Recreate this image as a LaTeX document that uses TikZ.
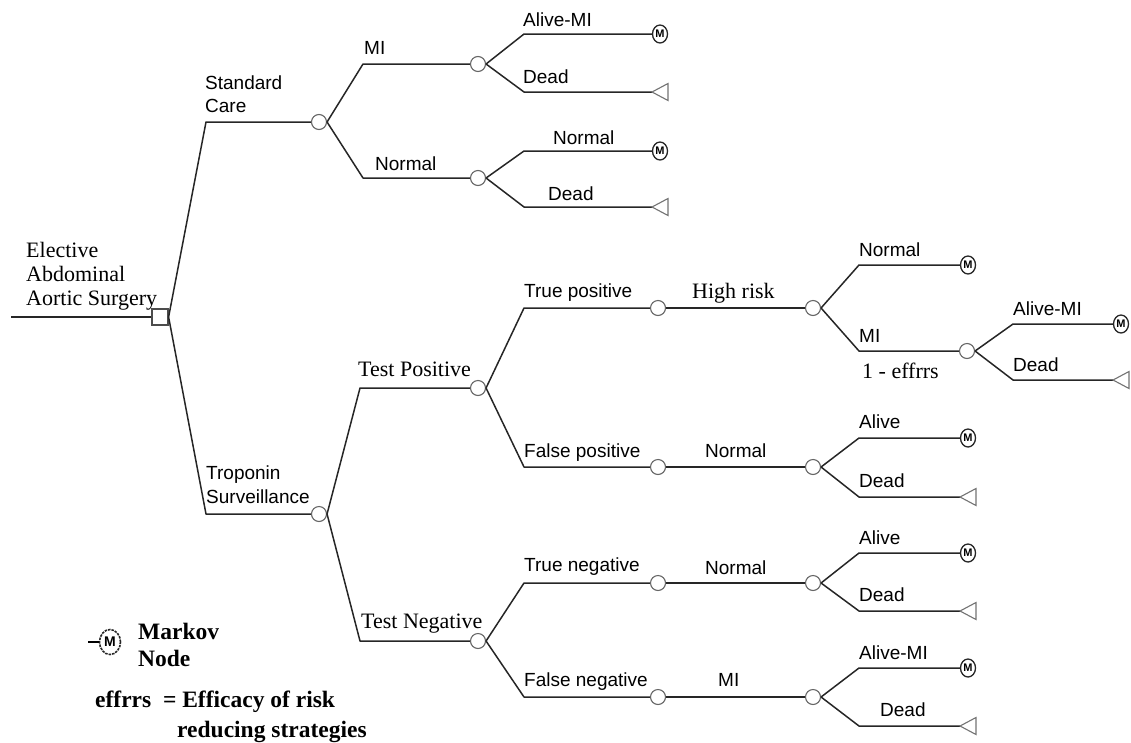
\documentclass[tikz,border=0pt]{standalone}
\usepackage{fontspec}
\usetikzlibrary{shapes.geometric}
\newfontfamily\lsans{Liberation Sans}
\newfontfamily\lserif{Liberation Serif}
\begin{document}
\begin{tikzpicture}[x=1pt,y=-1pt,
  edge/.style={line width=1.5pt, black!85, line join=round},
  chance/.style={circle, draw=black!60, line width=1.1pt, minimum size=15pt, inner sep=0pt, fill=white},
  decision/.style={rectangle, draw=black!70, line width=1.2pt, minimum size=16pt, inner sep=0pt, fill=white},
  markov/.style={ellipse, draw=black!85, line width=1.3pt, minimum width=15pt, minimum height=18pt, inner sep=0pt, font=\lsans\bfseries\fontsize{11}{11}\selectfont},
  term/.style={draw=black!55, line width=1.1pt, line join=miter},
  lab/.style={anchor=base west, inner sep=0pt, font=\lsans\fontsize{19}{22}\selectfont},
  slab/.style={anchor=base west, inner sep=0pt, font=\lserif\fontsize{22}{24}\selectfont},
  blab/.style={anchor=base west, inner sep=0pt, font=\lserif\bfseries\fontsize{23.5}{26}\selectfont}]
\useasboundingbox (0,0) rectangle (1131,742);

% ---------- root ----------
\coordinate (start) at (11,317);
\node[decision] (root) at (160,317) {};
\draw[edge] (start) -- (root.west);
\node[slab] (el1) at (26,257) {Elective};
\node[slab] (el2) at (26,281) {Abdominal};
\node[slab] (el3) at (26,305) {Aortic Surgery};

% ---------- standard care ----------
\coordinate (sc) at (206,122);
\node[chance] (c1) at (319,122) {};
\draw[edge] (root.east) -- (sc) -- (c1.west);
\node[lab] (lsc1) at (205,89) {Standard};
\node[lab] (lsc2) at (205,112) {Care};

\coordinate (a1) at (363,64);
\coordinate (a2) at (363,178);
\node[chance] (c2) at (478,64) {};
\node[chance] (c3) at (478,178) {};
\draw[edge] (c1.east) -- (a1) -- (c2.west);
\draw[edge] (c1.east) -- (a2) -- (c3.west);
\node[lab] (lmi1) at (364,54) {MI};
\node[lab] (lno1) at (375,170) {Normal};

\coordinate (a3) at (524,34);
\coordinate (a4) at (524,92);
\node[markov] (m1) at (660,34) {M};
\coordinate (t1) at (652,92);
\draw[edge] (c2.east) -- (a3) -- (m1.west);
\draw[edge] (c2.east) -- (a4) -- (t1);
\draw[term] (t1) -- ++(16,-8.5) -- ++(0,17) -- cycle;
\node[lab] (lam1) at (523,26) {Alive-MI};
\node[lab] (ld1) at (523,83) {Dead};

\coordinate (a5) at (524,151);
\coordinate (a6) at (524,207);
\node[markov] (m2) at (660,151) {M};
\coordinate (t2) at (652,207);
\draw[edge] (c3.east) -- (a5) -- (m2.west);
\draw[edge] (c3.east) -- (a6) -- (t2);
\draw[term] (t2) -- ++(16,-8.5) -- ++(0,17) -- cycle;
\node[lab] (lno2) at (553,144) {Normal};
\node[lab] (ld2) at (548,200) {Dead};

% ---------- troponin ----------
\coordinate (tr) at (206,514);
\node[chance] (c4) at (319,514) {};
\draw[edge] (root.east) -- (tr) -- (c4.west);
\node[lab] (ltr1) at (206,479) {Troponin};
\node[lab] (ltr2) at (206,503) {Surveillance};

\coordinate (b1) at (360,388);
\coordinate (b2) at (360,641);
\node[chance] (c5) at (478,388) {};
\node[chance] (c6) at (478,641) {};
\draw[edge] (c4.east) -- (b1) -- (c5.west);
\draw[edge] (c4.east) -- (b2) -- (c6.west);
\node[slab] (ltp) at (358,376) {Test Positive};
\node[slab] (ltn) at (361,628) {Test Negative};

% test positive
\coordinate (b3) at (524,308);
\coordinate (b4) at (524,467);
\node[chance] (c7) at (658,308) {};
\node[chance] (c8) at (658,467) {};
\node[chance] (c9) at (813,308) {};
\node[chance] (c10) at (813,467) {};
\draw[edge] (c5.east) -- (b3) -- (c7.west);
\draw[edge] (c5.east) -- (b4) -- (c8.west);
\draw[edge] (c7.east) -- (c9.west);
\draw[edge] (c8.east) -- (c10.west);
\node[lab] (ltpos) at (524,297) {True positive};
\node[lab] (lfpos) at (524,457) {False positive};
\node[slab] (lhr) at (692,298) {High risk};
\node[lab] (lno3) at (705,457) {Normal};

\coordinate (b5) at (859,265);
\coordinate (b6) at (859,351);
\node[markov] (m3) at (968,265) {M};
\node[chance] (c11) at (967,351) {};
\draw[edge] (c9.east) -- (b5) -- (m3.west);
\draw[edge] (c9.east) -- (b6) -- (c11.west);
\node[lab] (lno4) at (859,256) {Normal};
\node[lab] (lmi2) at (859,342) {MI};
\node[slab] (leff) at (862,378) {1 - effrrs};

\coordinate (b7) at (1013,324);
\coordinate (b8) at (1013,380);
\node[markov] (m4) at (1121,324) {M};
\coordinate (t3) at (1113,380);
\draw[edge] (c11.east) -- (b7) -- (m4.west);
\draw[edge] (c11.east) -- (b8) -- (t3);
\draw[term] (t3) -- ++(16,-8.5) -- ++(0,17) -- cycle;
\node[lab] (lam2) at (1013,315) {Alive-MI};
\node[lab] (ld3) at (1013,371) {Dead};

\coordinate (b9) at (859,438);
\coordinate (b10) at (859,497);
\node[markov] (m5) at (968,438) {M};
\coordinate (t4) at (960,497);
\draw[edge] (c10.east) -- (b9) -- (m5.west);
\draw[edge] (c10.east) -- (b10) -- (t4);
\draw[term] (t4) -- ++(16,-8.5) -- ++(0,17) -- cycle;
\node[lab] (lal1) at (859,428) {Alive};
\node[lab] (ld4) at (859,487) {Dead};

% test negative
\coordinate (d1) at (524,583);
\coordinate (d2) at (524,697);
\node[chance] (c12) at (658,583) {};
\node[chance] (c13) at (658,697) {};
\node[chance] (c14) at (813,583) {};
\node[chance] (c15) at (813,697) {};
\draw[edge] (c6.east) -- (d1) -- (c12.west);
\draw[edge] (c6.east) -- (d2) -- (c13.west);
\draw[edge] (c12.east) -- (c14.west);
\draw[edge] (c13.east) -- (c15.west);
\node[lab] (ltneg) at (524,571) {True negative};
\node[lab] (lfneg) at (524,686) {False negative};
\node[lab] (lno5) at (705,574) {Normal};
\node[lab] (lmi3) at (718,686) {MI};

\coordinate (d3) at (859,553);
\coordinate (d4) at (859,611);
\node[markov] (m6) at (968,553) {M};
\coordinate (t5) at (960,611);
\draw[edge] (c14.east) -- (d3) -- (m6.west);
\draw[edge] (c14.east) -- (d4) -- (t5);
\draw[term] (t5) -- ++(16,-8.5) -- ++(0,17) -- cycle;
\node[lab] (lal2) at (859,544) {Alive};
\node[lab] (ld5) at (859,601) {Dead};

\coordinate (d5) at (859,668);
\coordinate (d6) at (859,726);
\node[markov] (m7) at (968,668) {M};
\coordinate (t6) at (960,726);
\draw[edge] (c15.east) -- (d5) -- (m7.west);
\draw[edge] (c15.east) -- (d6) -- (t6);
\draw[term] (t6) -- ++(16,-8.5) -- ++(0,17) -- cycle;
\node[lab] (lam3) at (859,659) {Alive-MI};
\node[lab] (ld6) at (880,716) {Dead};

% ---------- legend ----------
\coordinate (lg0) at (88,642);
\node[markov, minimum width=21pt, minimum height=25pt, line width=1.6pt, dash pattern=on 2.5pt off 1pt, font=\lsans\bfseries\fontsize{14}{14}\selectfont] (lgm) at (110,642) {M};
\draw[edge, line width=2.2pt, black] (lg0) -- (lgm.west);
\node[blab] (lmk1) at (138,639) {Markov};
\node[blab] (lmk2) at (138,666) {Node};
\node[blab] (lef1) at (95,707) {effrrs\ \ = Efficacy of risk};
\node[blab] (lef2) at (177,737) {reducing strategies};
\end{tikzpicture}
\end{document}
